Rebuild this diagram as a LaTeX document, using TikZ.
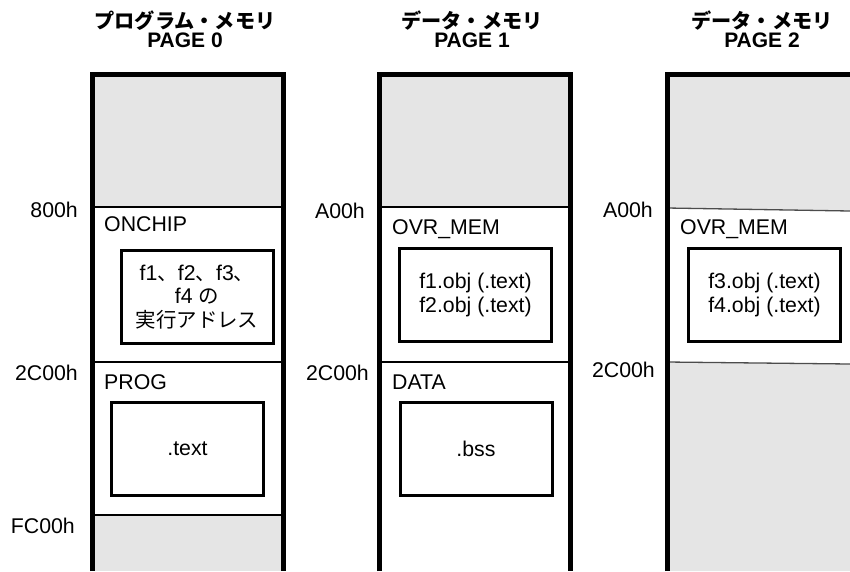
\documentclass[tikz,border=0pt]{standalone}
\usepackage{fontspec}
\setmainfont{Liberation Sans}
\newfontfamily\jpfont[Scale=0.96]{Noto Sans CJK JP}
\usetikzlibrary{positioning}

\begin{document}
\begin{tikzpicture}[
    x=1pt, y=-1pt,
    pagetitle/.style={align=center, inner sep=0pt, font=\fontsize{21}{19}\selectfont\bfseries},
    addr/.style={anchor=base east, inner sep=0pt, font=\fontsize{21.3}{21}\selectfont},
    seclabel/.style={anchor=base west, inner sep=0pt, font=\fontsize{21.3}{21}\selectfont},
    secbox/.style={draw, line width=3pt, align=center, inner sep=0pt, minimum width=152pt, minimum height=93pt, font=\fontsize{21.3}{23.5}\selectfont},
    memwall/.style={line width=5pt},
    divider/.style={line width=2.2pt},
    softdiv/.style={line width=1.3pt, black!70},
    unused/.style={fill=black!10}
  ]
    \useasboundingbox (0,0) rectangle (850,571);

    % unused areas
    \fill [unused] (92,74) rectangle (283.5,207);
    \fill [unused] (92,515) rectangle (283.5,571);
    \fill [unused] (379.5,74) rectangle (570,207);
    \fill [unused] (667,74) -- (850,74) -- (850,211) -- (667,208) -- cycle;
    \fill [unused] (667,362) -- (850,364) -- (850,571) -- (667,571) -- cycle;

    % section borders
    \draw [divider] (92,207) -- (283.5,207);
    \draw [divider] (92,362) -- (283.5,362);
    \draw [divider] (92,515) -- (283.5,515);
    \draw [divider] (379.5,207) -- (570,207);
    \draw [divider] (379.5,362) -- (570,362);
    \draw [softdiv] (667,208) -- (850,211);
    \draw [softdiv] (667,362) -- (850,364);

    % memory walls
    \draw [memwall] (92,571) -- (92,74) -- (283.5,74) -- (283.5,571);
    \draw [memwall] (379.5,571) -- (379.5,74) -- (570,74) -- (570,571);
    \draw [memwall] (667,571) -- (667,74) -- (850,74);

    \node (page0) [pagetitle] at (185,29) {{\jpfont プログラム・メモリ}\\PAGE 0};
    \node (page1) [pagetitle] at (472,29) {{\jpfont データ・メモリ}\\PAGE 1};
    \node (page2) [pagetitle] at (762,29) {{\jpfont データ・メモリ}\\PAGE 2};

    \node (p0 800) [addr] at (78,217) {800h};
    \node (p0 2c00) [addr] at (78,380) {2C00h};
    \node (p0 fc00) [addr] at (75,533) {FC00h};
    \node (p1 a00) [addr] at (365,218) {A00h};
    \node (p1 2c00) [addr] at (369,380) {2C00h};
    \node (p2 a00) [addr] at (653,217) {A00h};
    \node (p2 2c00) [addr] at (655,377) {2C00h};

    \node (onchip) [seclabel] at (104,231) {ONCHIP};
    \node (prog) [seclabel] at (104,389) {PROG};
    \node (ovrmem1) [seclabel] at (392,234) {OVR\_MEM};
    \node (data) [seclabel] at (392,389) {DATA};
    \node (ovrmem2) [seclabel] at (680,234) {OVR\_MEM};

    \node (runaddr) [secbox] at (197,297) {f1{\jpfont 、}f2{\jpfont 、}f3{\jpfont 、}\\f4 {\jpfont の}\\{\jpfont 実行アドレス}};
    \node (textsec) [secbox] at (187.5,448.5) {.text};
    \node (ovrload1) [secbox] at (475.5,295) {f1.obj (.text)\\f2.obj (.text)};
    \node (bsssec) [secbox] at (476,449) {.bss};
    \node (ovrload2) [secbox] at (764.5,295) {f3.obj (.text)\\f4.obj (.text)};
  \end{tikzpicture}
\end{document}
